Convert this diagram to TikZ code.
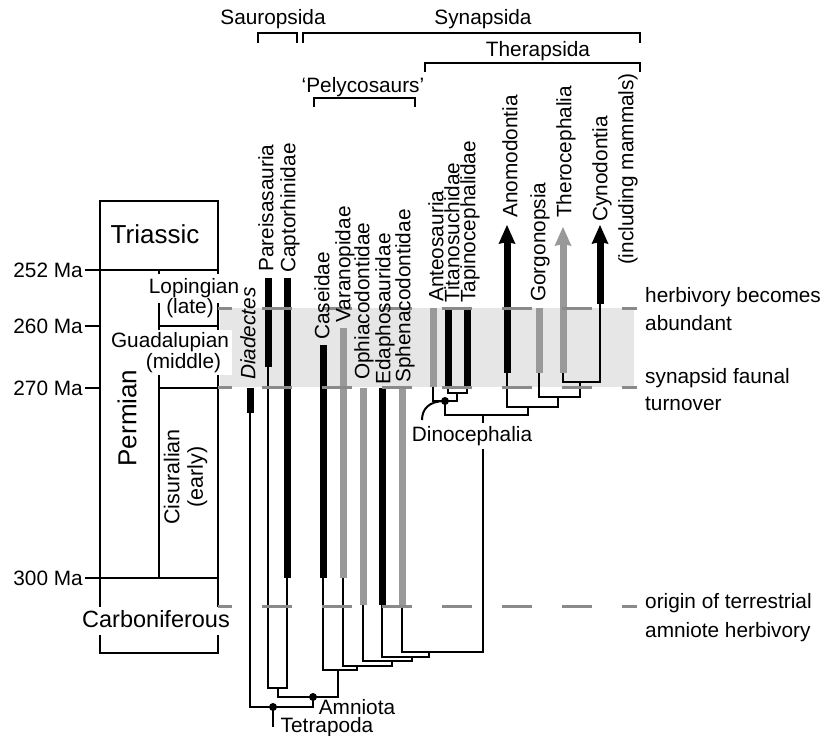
\documentclass[tikz,border=0pt]{standalone}
\usepackage{fontspec}
\setmainfont{Liberation Sans}
\definecolor{barGray}{HTML}{999999}
\definecolor{dashGray}{HTML}{8A8A8A}
\definecolor{bandGray}{HTML}{E6E6E6}
\newcommand{\lblfont}{\fontsize{20.8}{25}\selectfont}
\newcommand{\bigfont}{\fontsize{26}{30}\selectfont}
\begin{document}
\begin{tikzpicture}[x=1pt,y=-1pt,
  scaleline/.style={line width=2.2pt},
  treeline/.style={line width=2pt},
  bbar/.style={line width=7pt},
  gbar/.style={line width=7pt, draw=barGray},
  dashln/.style={line width=3pt, draw=dashGray, dash pattern=on 30pt off 30pt, dash phase=15pt},
  lbl/.style={rotate=90, anchor=west, inner sep=0pt, font=\lblfont},
  txt/.style={inner sep=0pt, font=\lblfont},
  dot/.style={fill=black}
]
\fill[white] (0,0) rectangle (825,736);
\useasboundingbox (0,0) rectangle (825,736);

% ---- grey band ----
\fill[bandGray] (220,308) rectangle (634,387);

% ---- time scale ----
\draw[scaleline] (100,201) rectangle (218,270);
\draw[scaleline] (85,270) -- (218,270);
\draw[scaleline] (100,270) -- (100,607);
\draw[scaleline] (218,270) -- (218,607);
\draw[scaleline] (159,270) -- (159,578);
\draw[scaleline] (159,326) -- (218,326);
\draw[scaleline] (159,388) -- (218,388);
\draw[scaleline] (85,326) -- (100,326);
\draw[scaleline] (85,388) -- (100,388);
\draw[scaleline] (85,578) -- (218,578);
\draw[scaleline] (100,635) -- (100,653) -- (218,653) -- (218,635);
\fill[white] (146,274) rectangle (242,303);
\fill[white] (108,330) rectangle (232,375);

\node[txt, font=\bigfont, anchor=base] (tri) at (155,243) {Triassic};
\node[txt, font=\bigfont, rotate=90] (perm) at (127,418) {Permian};
\node[txt, anchor=base] (lop) at (194,293) {Lopingian};
\node[txt, anchor=base] (late) at (190,313.5) {(late)};
\node[txt, anchor=base] (guad) at (170,347.5) {Guadalupian};
\node[txt, anchor=base] (middle) at (183.5,368.5) {(middle)};
\node[txt, rotate=90, align=center, font=\fontsize{21.5}{23.5}\selectfont] (cis) at (185.5,477) {Cisuralian\\(early)};
\node[txt, font=\fontsize{23.5}{28}\selectfont, anchor=base] (carb) at (156,627) {Carboniferous};
\node[txt, anchor=east] (m252) at (83,270) {252 Ma};
\node[txt, anchor=east] (m260) at (83,326) {260 Ma};
\node[txt, anchor=east] (m270) at (83,388) {270 Ma};
\node[txt, anchor=east] (m300) at (83,578) {300 Ma};

% ---- coordinates of range bars ----
\coordinate (Di0) at (250,388); \coordinate (Di1) at (250,413);
\coordinate (Pa0) at (268,278); \coordinate (Pa1) at (268,367);
\coordinate (Cp0) at (287,278); \coordinate (Cp1) at (287,578);
\coordinate (Cs0) at (323,345); \coordinate (Cs1) at (323,578);
\coordinate (Va0) at (343,328); \coordinate (Va1) at (343,578);
\coordinate (Op0) at (363,388); \coordinate (Op1) at (363,605);
\coordinate (Ed0) at (382,388); \coordinate (Ed1) at (382,605);
\coordinate (Sp0) at (402,388); \coordinate (Sp1) at (402,605);
\coordinate (An0) at (433,308); \coordinate (An1) at (433,387);
\coordinate (Ti0) at (448,308); \coordinate (Ti1) at (448,387);
\coordinate (Ta0) at (467,308); \coordinate (Ta1) at (467,387);
\coordinate (AoT) at (507,225); \coordinate (Ao0) at (507,240); \coordinate (Ao1) at (507,373);
\coordinate (Go0) at (539,308); \coordinate (Go1) at (539,373);
\coordinate (TeT) at (563,227); \coordinate (Te0) at (563,242); \coordinate (Te1) at (563,373);
\coordinate (CyT) at (600,225); \coordinate (Cy0) at (600,240); \coordinate (Cy1) at (600,304);

% ---- internal nodes ----
\coordinate (Tet) at (273,707); \coordinate (TetRoot) at (273,727);
\coordinate (Amn) at (313,697);
\coordinate (Sau) at (278,688);
\coordinate (Syn) at (338,670);
\coordinate (Sy2) at (357,666);
\coordinate (Sy3) at (392,661);
\coordinate (Sy4) at (412,657);
\coordinate (Sy5) at (429,652);
\coordinate (Ther) at (483,415);
\coordinate (Dino) at (445,401);
\coordinate (TT) at (457,393);
\coordinate (Th2) at (528,407);
\coordinate (Th3) at (558,397);
\coordinate (Th4) at (580,382);

% ---- tree ----
\draw[treeline] (Di0) -- (Di1) |- (Tet) -| (Amn);
\draw[treeline] (Tet) -- (TetRoot);
\draw[treeline] (Sau) |- (Amn) -| (Syn);
\draw[treeline] (Pa1) |- (Sau) -| (Cp1);
\draw[treeline] (Cs1) |- (Syn) -| (Sy2);
\draw[treeline] (Va1) |- (Sy2) -| (Sy3);
\draw[treeline] (Op1) |- (Sy3) -| (Sy4);
\draw[treeline] (Ed1) |- (Sy4) -| (Sy5);
\draw[treeline] (Sp1) |- (Sy5) -| (Ther);
\draw[treeline] (Dino) |- (Ther) -| (Th2);
\draw[treeline] (An1) |- (Dino) -| (TT);
\draw[treeline] (Ti1) |- (TT) -| (Ta1);
\draw[treeline] (Ao1) |- (Th2) -| (Th3);
\draw[treeline] (Go1) |- (Th3) -| (Th4);
\draw[treeline] (Te1) |- (Th4) -| (Cy1);

% ---- range bars ----
\draw[bbar] (Di0) -- (Di1);
\draw[bbar] (Pa0) -- (Pa1);
\draw[bbar] (Cp0) -- (Cp1);
\draw[bbar] (Cs0) -- (Cs1);
\draw[gbar] (Va0) -- (Va1);
\draw[gbar] (Op0) -- (Op1);
\draw[bbar] (Ed0) -- (Ed1);
\draw[gbar] (Sp0) -- (Sp1);
\draw[gbar] (An0) -- (An1);
\draw[bbar] (Ti0) -- (Ti1);
\draw[bbar] (Ta0) -- (Ta1);
\draw[bbar] (Ao0) -- (Ao1);
\draw[gbar] (Go0) -- (Go1);
\draw[gbar] (Te0) -- (Te1);
\draw[bbar] (Cy0) -- (Cy1);
\fill[black] (AoT) -- ++(8.5,19) -- ++(-8.5,-2) -- ++(-8.5,2) -- cycle;
\fill[barGray] (TeT) -- ++(8.5,19) -- ++(-8.5,-2) -- ++(-8.5,2) -- cycle;
\fill[black] (CyT) -- ++(8.5,19) -- ++(-8.5,-2) -- ++(-8.5,2) -- cycle;

% ---- dots ----
\fill[dot] (Tet) circle (4pt);
\fill[dot] (Amn) circle (4pt);
\fill[dot] (Dino) circle (4pt);

% ---- dashed time lines ----
\coordinate (d1r) at (637,308); \coordinate (d1l) at (218,308);
\coordinate (d2r) at (637,387); \coordinate (d2l) at (218,387);
\coordinate (d3r) at (637,606); \coordinate (d3l) at (218,606);
\draw[dashln] (d1r) -- (d1l);
\draw[dashln] (d2r) -- (d2l);
\draw[dashln] (d3r) -- (d3l);

% ---- Dinocephalia label ----
\node[txt, fill=white, inner sep=3pt] (dinolbl) at (472,436) {Dinocephalia};
\coordinate (dcA) at (422,420);
\draw[treeline] (dcA) .. controls (422,409) and (429,401) .. (Dino);

\node[txt] (amnlbl) at (357,707) {Amniota};
\node[txt] (tetlbl) at (327,727.5) {Tetrapoda};

% ---- taxon labels ----
\node[lbl] (lDi) at (248,380) {\itshape Diadectes};
\node[lbl] (lPa) at (266,272) {Pareisasauria};
\node[lbl] (lCp) at (290,273) {Captorhinidae};
\node[lbl] (lCs) at (322,340) {Caseidae};
\node[lbl] (lVa) at (345,323) {Varanopidae};
\node[lbl] (lOp) at (364,380) {Ophiacodontidae};
\node[lbl] (lEd) at (385,385) {Edaphosauridae};
\node[lbl] (lSp) at (405,383) {Sphenacodontidae};
\node[lbl] (lAn) at (436,302) {Anteosauria};
\node[lbl] (lTi) at (452,303) {Titanosuchidae};
\node[lbl] (lTa) at (470,303) {Tapinocephalidae};
\node[lbl] (lAo) at (510,218) {Anomodontia};
\node[lbl] (lGo) at (540,302) {Gorgonopsia};
\node[lbl] (lTe) at (566,218) {Therocephalia};
\node[txt, rotate=90, align=center, font=\fontsize{20.8}{26}\selectfont] (lCy) at (615,169) {Cynodontia\\(including mammals)};

% ---- clade brackets ----
\draw[scaleline] (258,43) -- (258,33) -- (297,33) -- (297,43);
\draw[scaleline] (303,43) -- (303,33) -- (640,33) -- (640,43);
\draw[scaleline] (425,72) -- (425,63) -- (640,63) -- (640,72);
\draw[scaleline] (314,107) -- (314,98) -- (415,98) -- (415,107);
\node[txt] (sauro) at (273,19) {Sauropsida};
\node[txt] (synap) at (483,19) {Synapsida};
\node[txt] (thera) at (538,51) {Therapsida};
\node[txt] (pelyc) at (363,87) {`Pelycosaurs'};

% ---- right-hand notes ----
\node[txt, anchor=base west] (n1a) at (645,302) {herbivory becomes};
\node[txt, anchor=base west] (n1b) at (645,330) {abundant};
\node[txt, anchor=base west] (n2a) at (645,383) {synapsid faunal};
\node[txt, anchor=base west] (n2b) at (645,410) {turnover};
\node[txt, anchor=base west] (n3a) at (645,608) {origin of terrestrial};
\node[txt, anchor=base west] (n3b) at (645,637) {amniote herbivory};
\end{tikzpicture}
\end{document}
